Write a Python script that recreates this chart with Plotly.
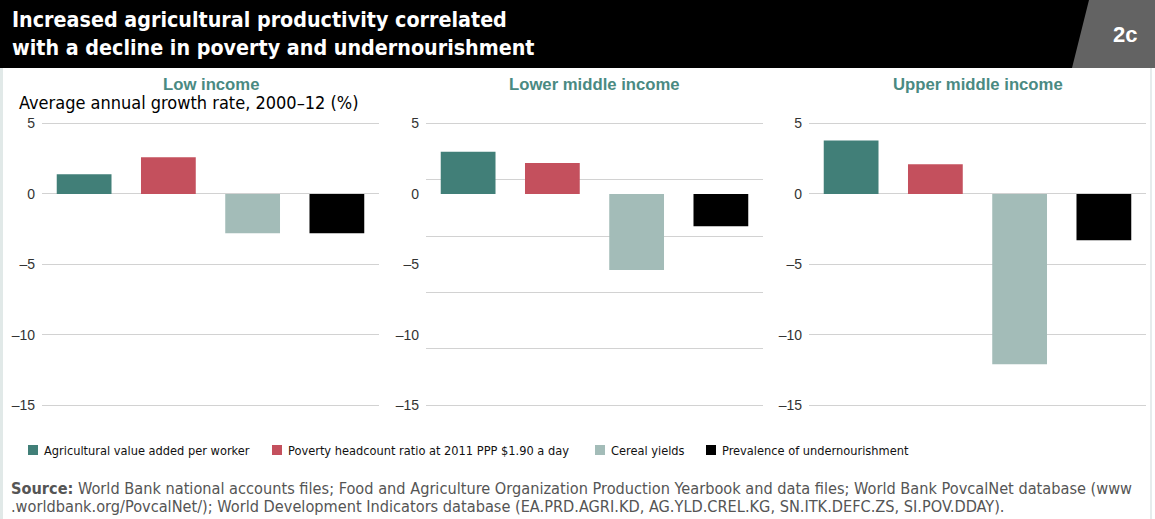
import plotly.graph_objects as go

# ---- data ----
groups = ["Low income", "Lower middle income", "Upper middle income"]
series = [
    "Agricultural value added per worker",
    "Poverty headcount ratio at 2011 PPP $1.90 a day",
    "Cereal yields",
    "Prevalence of undernourishment",
]
ag_value = [1.4, 3.0, 3.8]
poverty = [2.6, 2.2, 2.1]
cereal = [-2.8, -5.4, -12.1]
undernourish = [-2.8, -2.3, -3.3]
values = [ag_value, poverty, cereal, undernourish]
colors = ["#417f78", "#c4505d", "#a3bcb8", "#000000"]
tick_vals = [5, 0, -5, -10, -15]
tick_text = ["5", "0", "\u20135", "\u201310", "\u201315"]

W, H = 1155, 519
NARROW = "DejaVu Sans Condensed, Liberation Sans Narrow, sans-serif"
SANS = "Liberation Sans, Arial, sans-serif"

def px_x(p):
    return p / W

def px_y(p):
    return 1 - p / H

fig = go.Figure()

panel_px = [(42, 379), (426, 763), (809, 1146)]
y_top, y_bot = 110, 420
ppu = (405 - 123.5) / 20.0
y_max = 5 + (123.5 - y_top) / ppu
y_min = -15 - (y_bot - 405) / ppu

for gi, g in enumerate(groups):
    xa = "x" if gi == 0 else f"x{gi+1}"
    ya = "y" if gi == 0 else f"y{gi+1}"
    for si, s in enumerate(series):
        fig.add_trace(go.Bar(
            x=[s], y=[values[si][gi]], name=s,
            marker=dict(color=colors[si], line=dict(width=0)),
            width=0.65, xaxis=xa, yaxis=ya,
            showlegend=False, hoverinfo="x+y",
        ))

layout = dict(
    width=W, height=H,
    margin=dict(l=0, r=0, t=0, b=0),
    paper_bgcolor="white", plot_bgcolor="white",
    barmode="relative",
    showlegend=False,
)

for gi in range(3):
    sfx = "" if gi == 0 else str(gi + 1)
    x0, x1 = panel_px[gi]
    layout["xaxis" + sfx] = dict(
        domain=[px_x(x0), px_x(x1)], anchor="y" + sfx,
        type="category", categoryorder="array", categoryarray=series,
        range=[-0.5, 3.5], showticklabels=False, showgrid=False,
        zeroline=False, showline=False, ticks="", fixedrange=True,
    )
    layout["yaxis" + sfx] = dict(
        domain=[px_y(y_bot), px_y(y_top)], anchor="x" + sfx,
        range=[y_min, y_max], tickmode="array", tickvals=tick_vals, ticktext=tick_text,
        showgrid=(gi != 1), gridcolor="#d2d2d2", gridwidth=1.3,
        zeroline=False, showline=False, ticks="",
        tickfont=dict(family=SANS, size=14, color="#333"),
        ticklabelstandoff=6, fixedrange=True,
    )

# middle panel: offset gridlines as drawn in the original
layout["yaxis4"] = dict(
    overlaying="y2", anchor="x2", side="right",
    range=[y_min, y_max], tickmode="array", tickvals=[5, 1, -3, -7, -11, -15],
    showticklabels=False, showgrid=True, gridcolor="#d2d2d2", gridwidth=1.3,
    zeroline=False, showline=False, ticks="", fixedrange=True,
)
fig.update_layout(**layout)

# invisible trace so yaxis4 gets drawn
fig.add_trace(go.Scatter(x=[series[0]], y=[0], xaxis="x2", yaxis="y4",
                         mode="markers", marker=dict(opacity=0), showlegend=False,
                         hoverinfo="skip"))

shapes = [
    dict(type="rect", xref="paper", yref="paper", x0=0, x1=1, y0=px_y(68), y1=1,
         fillcolor="#000000", line=dict(width=0), layer="below"),
    dict(type="path", xref="paper", yref="paper",
         path=f"M {px_x(1089)} 1 L 1 1 L 1 {px_y(68)} L {px_x(1072)} {px_y(68)} Z",
         fillcolor="#636363", line=dict(width=0), layer="below"),
    dict(type="rect", xref="paper", yref="paper", x0=0, x1=px_x(3), y0=0, y1=px_y(68),
         fillcolor="#e1e9e8", line=dict(width=0), layer="below"),
    dict(type="rect", xref="paper", yref="paper", x0=px_x(1150), x1=px_x(1152), y0=0, y1=px_y(68),
         fillcolor="#e6ecec", line=dict(width=0), layer="below"),
]

annotations = [
    dict(text="<b>Increased agricultural productivity correlated</b>", x=px_x(10), y=px_y(19),
         xanchor="left", yanchor="middle", font=dict(family=NARROW, size=21.3, color="white")),
    dict(text="<b>with a decline in poverty and undernourishment</b>", x=px_x(10), y=px_y(48),
         xanchor="left", yanchor="middle", font=dict(family=NARROW, size=21.3, color="white")),
    dict(text="<b>2c</b>", x=px_x(1125), y=px_y(34), xanchor="center", yanchor="middle",
         font=dict(family=SANS, size=22, color="white")),
    dict(text="Average annual growth rate, 2000\u201312 (%)", x=px_x(17), y=px_y(102),
         xanchor="left", yanchor="middle", font=dict(family=NARROW, size=18, color="#000")),
    dict(text="<b>Source:</b> World Bank national accounts files; Food and Agriculture Organization Production Yearbook and data files; World Bank PovcalNet database (www",
         x=px_x(9), y=px_y(488), xanchor="left", yanchor="middle",
         font=dict(family=NARROW, size=16.2, color="#555")),
    dict(text=".worldbank.org/PovcalNet/); World Development Indicators database (EA.PRD.AGRI.KD, AG.YLD.CREL.KG, SN.ITK.DEFC.ZS, SI.POV.DDAY).",
         x=px_x(9), y=px_y(506), xanchor="left", yanchor="middle",
         font=dict(family=NARROW, size=16.2, color="#555")),
]
for gi, g in enumerate(groups):
    x0, x1 = panel_px[gi]
    annotations.append(dict(text=f"<b>{g}</b>", x=px_x((x0 + x1) / 2), y=px_y(85),
                            xanchor="center", yanchor="middle",
                            font=dict(family=SANS, size=16.7, color="#4a8a82")))

# legend (swatch + label), laid out like the original's key
legend_left = [28, 272, 595, 706]
legend_y = 450
for si, s in enumerate(series):
    lx = legend_left[si]
    shapes.append(dict(type="rect", xref="paper", yref="paper",
                       x0=px_x(lx), x1=px_x(lx + 10), y0=px_y(legend_y + 5), y1=px_y(legend_y - 5),
                       fillcolor=colors[si], line=dict(width=0)))
    annotations.append(dict(text=s, x=px_x(lx + 14), y=px_y(legend_y), xanchor="left",
                            yanchor="middle", font=dict(family=NARROW, size=12.7, color="#111")))

for a in annotations:
    a.update(xref="paper", yref="paper", showarrow=False)

fig.update_layout(shapes=shapes, annotations=annotations)
fig.write_html("out.html", config={"displayModeBar": False},
               post_script="document.body.style.margin='0';document.body.style.overflow='hidden';")
